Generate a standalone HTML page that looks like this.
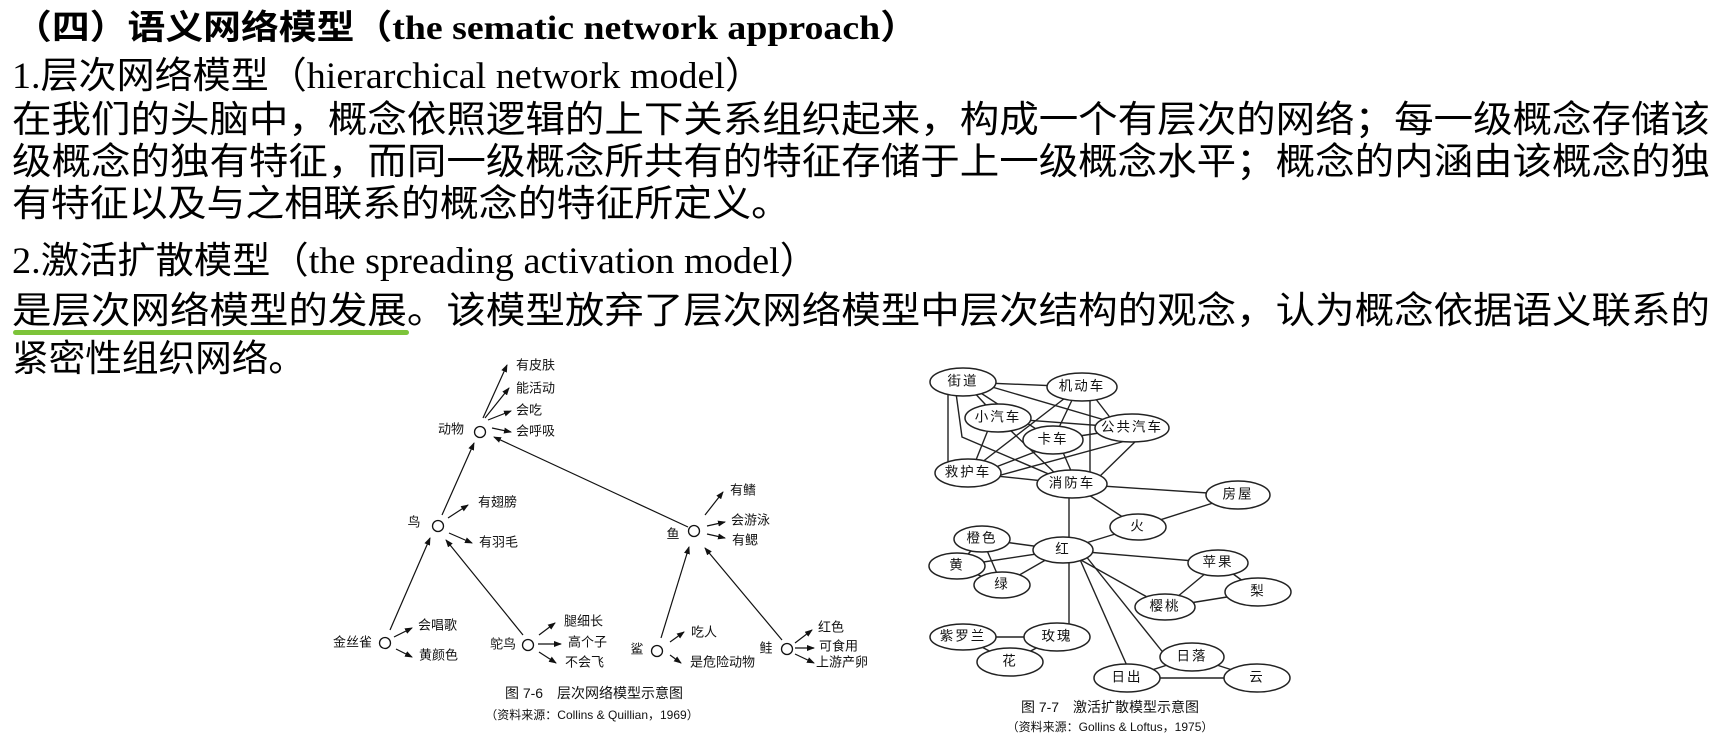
<!DOCTYPE html>
<html><head><meta charset="utf-8">
<style>
html,body{margin:0;padding:0;background:#fff;}
body{width:1723px;height:739px;position:relative;overflow:hidden;font-family:"Liberation Serif","Noto Sans CJK SC",serif;color:#000;}
.ln{position:absolute;left:12px;white-space:nowrap;transform-origin:0 50%;line-height:1;}
.cj{font-family:"Liberation Serif","Noto Sans CJK SC",sans-serif;font-size:37px;}
svg{position:absolute;left:0;top:0;}
svg text{font-family:"Liberation Sans","Noto Sans CJK SC",sans-serif;fill:#111;}
</style></head><body>
<div class="ln" id="l0" style="top:12px;left:14px;font-size:34px;font-weight:bold;">（四）语义网络模型（the sematic network approach）</div>
<div class="ln cj" id="l1" style="top:58px;">1.层次网络模型（hierarchical network model）</div>
<div class="ln cj" id="l2" style="top:102px;">在我们的头脑中，概念依照逻辑的上下关系组织起来，构成一个有层次的网络；每一级概念存储该</div>
<div class="ln cj" id="l3" style="top:144px;">级概念的独有特征，而同一级概念所共有的特征存储于上一级概念水平；概念的内涵由该概念的独</div>
<div class="ln cj" id="l4" style="top:186px;">有特征以及与之相联系的概念的特征所定义。</div>
<div class="ln cj" id="l5" style="top:243px;">2.激活扩散模型（the spreading activation model）</div>
<div class="ln cj" id="l6" style="top:293px;">是层次网络模型的发展。该模型放弃了层次网络模型中层次结构的观念，认为概念依据语义联系的</div>
<div class="ln cj" id="l7" style="top:341px;">紧密性组织网络。</div>
<div style="position:absolute;left:13px;top:330px;width:396px;height:5px;border-radius:3px;background:#7dc43a;"></div>

<svg width="1723" height="739" viewBox="0 0 1723 739">
<defs><marker id="ah" markerWidth="8" markerHeight="6" refX="7" refY="3" orient="auto" markerUnits="userSpaceOnUse"><path d="M0,0 L8,3 L0,6 z" fill="#111"/></marker></defs>
<g stroke="#111" stroke-width="1.2" fill="none" marker-end="url(#ah)">
<line x1="483" y1="418" x2="507" y2="365"/>
<line x1="485" y1="418" x2="509" y2="388"/>
<line x1="488" y1="420" x2="511" y2="411"/>
<line x1="492" y1="428" x2="511" y2="432"/>
<line x1="442" y1="515" x2="474" y2="443"/>
<line x1="688" y1="527" x2="494" y2="437"/>
<line x1="448" y1="518" x2="468" y2="505"/>
<line x1="449" y1="533" x2="472" y2="543"/>
<line x1="705" y1="515" x2="723" y2="492"/>
<line x1="707" y1="526" x2="725" y2="522"/>
<line x1="707" y1="534" x2="725" y2="538"/>
<line x1="390" y1="630" x2="430" y2="538"/>
<line x1="394" y1="637" x2="412" y2="628"/>
<line x1="396" y1="649" x2="412" y2="657"/>
<line x1="523" y1="635" x2="446" y2="540"/>
<line x1="539" y1="635" x2="555" y2="623"/>
<line x1="538" y1="644" x2="561" y2="644"/>
<line x1="539" y1="652" x2="556" y2="663"/>
<line x1="661" y1="638" x2="689" y2="547"/>
<line x1="670" y1="642" x2="684" y2="632"/>
<line x1="670" y1="655" x2="681" y2="663"/>
<line x1="782" y1="640" x2="705" y2="548"/>
<line x1="795" y1="643" x2="812" y2="630"/>
<line x1="795" y1="648" x2="814" y2="648"/>
<line x1="795" y1="654" x2="814" y2="663"/>
</g>
<g stroke="#111" stroke-width="1.3" fill="#fff">
<circle cx="480" cy="432" r="5.5"/><circle cx="438" cy="526" r="5.5"/><circle cx="694" cy="531" r="5.5"/>
<circle cx="385" cy="643" r="5.5"/><circle cx="528" cy="645" r="5.5"/><circle cx="657" cy="651" r="5.5"/><circle cx="787" cy="649" r="5.5"/>
</g>
<g font-size="13" dominant-baseline="middle">
<text x="451" y="430" text-anchor="middle">动物</text>
<text x="516" y="366">有皮肤</text><text x="516" y="389">能活动</text><text x="516" y="411">会吃</text><text x="516" y="432">会呼吸</text>
<text x="414" y="523" text-anchor="middle">鸟</text>
<text x="478" y="503">有翅膀</text><text x="479" y="543">有羽毛</text>
<text x="673" y="535" text-anchor="middle">鱼</text>
<text x="730" y="491">有鳍</text><text x="731" y="521">会游泳</text><text x="732" y="541">有鳃</text>
<text x="333" y="643">金丝雀</text>
<text x="418" y="626">会唱歌</text><text x="419" y="656">黄颜色</text>
<text x="490" y="645">鸵鸟</text>
<text x="564" y="622">腿细长</text><text x="568" y="643">高个子</text><text x="565" y="663">不会飞</text>
<text x="637" y="650" text-anchor="middle">鲨</text>
<text x="691" y="633">吃人</text><text x="690" y="663">是危险动物</text>
<text x="766" y="649" text-anchor="middle">鲑</text>
<text x="818" y="628">红色</text><text x="819" y="647">可食用</text><text x="816" y="663">上游产卵</text>
</g>
<text x="594" y="698" font-size="14" text-anchor="middle" fill="#444">图 7-6　层次网络模型示意图</text>
<text x="592" y="719" font-size="12" text-anchor="middle" fill="#444">（资料来源：Collins &amp; Quillian，1969）</text>

<g stroke="#222" stroke-width="1.4" fill="none">
<line x1="963" y1="382" x2="1082" y2="387"/>
<line x1="975" y1="382" x2="1132" y2="428"/>
<line x1="970" y1="386" x2="1053" y2="440"/>
<line x1="970" y1="388" x2="998" y2="418"/>
<line x1="948" y1="390" x2="948" y2="470"/>
<polyline points="956,393 962,437 1072,484"/>
<line x1="1065" y1="398" x2="968" y2="473"/>
<line x1="1073" y1="398" x2="1053" y2="440"/>
<line x1="1090" y1="398" x2="1090" y2="480"/>
<line x1="1095" y1="398" x2="1112" y2="420"/>
<line x1="998" y1="418" x2="1132" y2="428"/>
<line x1="990" y1="425" x2="972" y2="470"/>
<line x1="1008" y1="428" x2="1060" y2="478"/>
<line x1="1040" y1="450" x2="975" y2="475"/>
<line x1="1062" y1="450" x2="1075" y2="480"/>
<line x1="1132" y1="428" x2="1053" y2="440"/>
<line x1="1140" y1="437" x2="990" y2="478"/>
<line x1="1140" y1="437" x2="1098" y2="478"/>
<line x1="968" y1="473" x2="1072" y2="484"/>
<line x1="1072" y1="484" x2="1238" y2="495"/>
<line x1="1072" y1="484" x2="1138" y2="527"/>
<line x1="1069" y1="484" x2="1069" y2="550"/>
<line x1="1138" y1="527" x2="1238" y2="495"/>
<line x1="1138" y1="527" x2="1063" y2="550"/>
<line x1="1063" y1="550" x2="982" y2="539"/>
<line x1="1063" y1="550" x2="957" y2="566"/>
<line x1="1063" y1="550" x2="1002" y2="585"/>
<line x1="1063" y1="550" x2="1218" y2="563"/>
<line x1="1063" y1="550" x2="1165" y2="607"/>
<line x1="1069" y1="555" x2="1069" y2="630"/>
<line x1="1078" y1="555" x2="1128" y2="668"/>
<line x1="1085" y1="555" x2="1165" y2="655"/>
<line x1="982" y1="539" x2="957" y2="566"/>
<line x1="982" y1="539" x2="1002" y2="585"/>
<line x1="957" y1="566" x2="1002" y2="585"/>
<line x1="1218" y1="563" x2="1165" y2="607"/>
<line x1="1218" y1="563" x2="1258" y2="592"/>
<line x1="1165" y1="607" x2="1258" y2="592"/>
<line x1="963" y1="637" x2="1057" y2="637"/>
<line x1="963" y1="637" x2="1010" y2="662"/>
<line x1="1057" y1="637" x2="1010" y2="662"/>
<line x1="1192" y1="657" x2="1127" y2="678"/>
<line x1="1192" y1="657" x2="1257" y2="678"/>
<line x1="1127" y1="678" x2="1257" y2="678"/>
</g>
<g stroke="#222" stroke-width="1.5" fill="#fff">
<ellipse cx="963" cy="382" rx="33" ry="14"/>
<ellipse cx="1082" cy="387" rx="35" ry="14"/>
<ellipse cx="998" cy="418" rx="33" ry="14"/>
<ellipse cx="1132" cy="428" rx="37" ry="14"/>
<ellipse cx="1053" cy="440" rx="30" ry="14"/>
<ellipse cx="968" cy="473" rx="33" ry="14"/>
<ellipse cx="1072" cy="484" rx="35" ry="14"/>
<ellipse cx="1238" cy="495" rx="32" ry="14"/>
<ellipse cx="1138" cy="527" rx="28" ry="13"/>
<ellipse cx="982" cy="539" rx="28" ry="13"/>
<ellipse cx="1063" cy="550" rx="30" ry="13"/>
<ellipse cx="957" cy="566" rx="28" ry="13"/>
<ellipse cx="1002" cy="585" rx="28" ry="13"/>
<ellipse cx="1218" cy="563" rx="30" ry="13"/>
<ellipse cx="1258" cy="592" rx="33" ry="14"/>
<ellipse cx="1165" cy="607" rx="30" ry="13"/>
<ellipse cx="963" cy="637" rx="33" ry="13"/>
<ellipse cx="1057" cy="637" rx="33" ry="14"/>
<ellipse cx="1010" cy="662" rx="33" ry="14"/>
<ellipse cx="1192" cy="657" rx="32" ry="14"/>
<ellipse cx="1127" cy="678" rx="33" ry="14"/>
<ellipse cx="1257" cy="678" rx="33" ry="14"/>
</g>
<g font-size="13.5" text-anchor="middle" dominant-baseline="middle" letter-spacing="2">
<text x="963" y="382">街道</text><text x="1082" y="387">机动车</text><text x="998" y="418">小汽车</text>
<text x="1132" y="428">公共汽车</text><text x="1053" y="440">卡车</text><text x="968" y="473">救护车</text>
<text x="1072" y="484">消防车</text><text x="1238" y="495">房屋</text><text x="1138" y="527">火</text>
<text x="982" y="539">橙色</text><text x="1063" y="550">红</text><text x="957" y="566">黄</text>
<text x="1002" y="585">绿</text><text x="1218" y="563">苹果</text><text x="1258" y="592">梨</text>
<text x="1165" y="607">樱桃</text><text x="963" y="637">紫罗兰</text><text x="1057" y="637">玫瑰</text>
<text x="1010" y="662">花</text><text x="1192" y="657">日落</text><text x="1127" y="678">日出</text><text x="1257" y="678">云</text>
</g>
<text x="1110" y="712" font-size="14" text-anchor="middle" fill="#333">图 7-7　激活扩散模型示意图</text>
<text x="1110" y="731" font-size="12" text-anchor="middle" fill="#333">（资料来源：Gollins &amp; Loftus，1975）</text>
</svg>
<script>
var W=[904,751,1698,1698,778,806,1698,293];
for(var i=0;i<W.length;i++){var e=document.getElementById('l'+i);var w=e.getBoundingClientRect().width;if(w>0)e.style.transform='scaleX('+(W[i]/w)+')';}
</script>
</body></html>
